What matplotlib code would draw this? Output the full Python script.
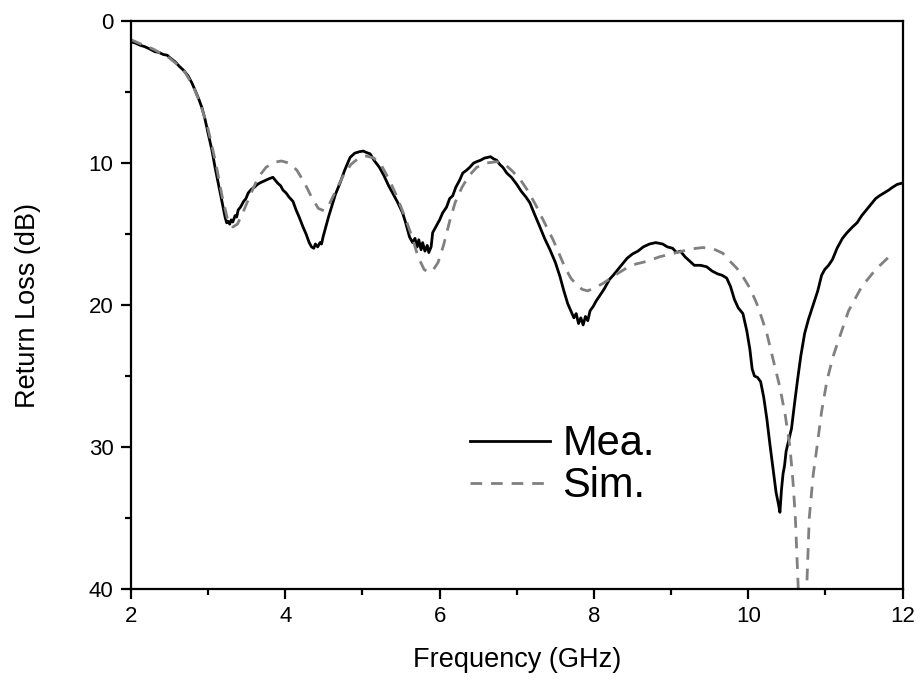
import matplotlib
matplotlib.use("Agg")
import matplotlib.pyplot as plt
from matplotlib.ticker import MultipleLocator

plt.rcParams["font.family"] = ["Liberation Sans", "DejaVu Sans"]

# measured return loss (GHz, dB)
mea_freq = [2.00, 2.06, 2.12, 2.18, 2.24, 2.31, 2.36, 2.42, 2.47, 2.51, 2.57, 2.63, 2.68, 2.74,
            2.79, 2.83, 2.88, 2.92, 2.96, 3.00, 3.05, 3.09, 3.12, 3.15, 3.19, 3.22, 3.24, 3.26,
            3.28, 3.30, 3.32, 3.35, 3.37, 3.39, 3.42, 3.46, 3.49, 3.52, 3.56, 3.60, 3.64, 3.67,
            3.71, 3.75, 3.79, 3.84, 3.87, 3.90, 3.94, 3.97, 4.01, 4.05, 4.10, 4.14, 4.18, 4.23,
            4.27, 4.31, 4.34, 4.37, 4.39, 4.42, 4.45, 4.47, 4.49, 4.52, 4.56, 4.60, 4.65, 4.71,
            4.77, 4.84, 4.90, 4.96, 5.01, 5.05, 5.10, 5.15, 5.22, 5.28, 5.34, 5.39, 5.45, 5.52,
            5.56, 5.61, 5.65, 5.68, 5.71, 5.73, 5.76, 5.78, 5.81, 5.84, 5.86, 5.89, 5.91, 5.95,
            6.00, 6.04, 6.09, 6.13, 6.17, 6.21, 6.26, 6.30, 6.35, 6.39, 6.44, 6.48, 6.53, 6.58,
            6.62, 6.66, 6.70, 6.74, 6.78, 6.82, 6.87, 6.93, 7.00, 7.06, 7.12, 7.17, 7.23, 7.30,
            7.36, 7.43, 7.50, 7.56, 7.61, 7.66, 7.70, 7.74, 7.77, 7.80, 7.83, 7.86, 7.89, 7.92,
            7.95, 7.99, 8.03, 8.08, 8.14, 8.20, 8.25, 8.31, 8.37, 8.43, 8.50, 8.57, 8.64, 8.72,
            8.80, 8.89, 8.95, 9.02, 9.07, 9.12, 9.18, 9.24, 9.30, 9.38, 9.46, 9.53, 9.60, 9.66,
            9.72, 9.77, 9.82, 9.87, 9.93, 9.98, 10.02, 10.05, 10.08, 10.12, 10.16, 10.20, 10.24,
            10.28, 10.32, 10.36, 10.39, 10.41, 10.43, 10.45, 10.47, 10.49, 10.52, 10.56, 10.60,
            10.64, 10.68, 10.73, 10.78, 10.84, 10.90, 10.95, 10.99, 11.04, 11.09, 11.15, 11.22,
            11.28, 11.35, 11.41, 11.47, 11.53, 11.59, 11.65, 11.70, 11.76, 11.82, 11.87, 11.93,
            12.00]
mea_db = [1.45, 1.55, 1.70, 1.80, 1.95, 2.15, 2.20, 2.35, 2.40, 2.60, 2.85, 3.20, 3.45, 3.85,
          4.35, 4.85, 5.50, 6.10, 6.90, 7.90, 9.10, 10.30, 11.10, 11.90, 13.00, 13.80, 14.20, 14.10,
          14.30, 14.00, 14.15, 13.70, 13.80, 13.30, 13.10, 12.70, 12.50, 12.10, 11.85, 11.70, 11.50, 11.40,
          11.30, 11.20, 11.10, 11.00, 11.20, 11.40, 11.60, 11.90, 12.10, 12.40, 12.70, 13.30, 13.80, 14.50,
          15.00, 15.60, 15.90, 16.00, 15.70, 15.90, 15.60, 15.70, 15.20, 14.60, 13.80, 13.10, 12.20, 11.40,
          10.50, 9.60, 9.30, 9.20, 9.15, 9.25, 9.35, 9.80, 10.30, 10.90, 11.60, 12.10, 12.70, 13.50,
          14.20, 15.20, 15.60, 15.30, 15.90, 15.40, 16.10, 15.60, 16.20, 15.80, 16.30, 15.90, 14.90, 14.50,
          14.00, 13.50, 13.10, 12.50, 12.30, 11.70, 11.20, 10.70, 10.50, 10.30, 10.00, 9.90, 9.80, 9.65,
          9.60, 9.55, 9.70, 9.80, 10.10, 10.30, 10.70, 11.00, 11.50, 12.00, 12.40, 12.80, 13.60, 14.50,
          15.30, 16.10, 17.00, 18.00, 19.00, 19.90, 20.40, 20.90, 20.60, 21.30, 20.90, 21.40, 20.80, 21.10,
          20.40, 20.10, 19.70, 19.30, 18.80, 18.20, 17.90, 17.50, 17.10, 16.70, 16.40, 16.20, 15.90, 15.70,
          15.60, 15.70, 15.90, 16.00, 16.30, 16.20, 16.60, 16.90, 17.20, 17.20, 17.30, 17.60, 17.80, 17.90,
          18.10, 18.70, 19.60, 20.20, 20.60, 21.80, 23.10, 24.50, 25.00, 25.10, 25.40, 26.50, 28.00,
          29.80, 31.50, 33.20, 34.00, 34.60, 33.00, 31.90, 31.30, 30.30, 29.60, 28.70, 26.90,
          25.20, 23.60, 22.00, 21.00, 20.00, 19.00, 17.90, 17.50, 17.20, 16.80, 16.00, 15.30,
          14.90, 14.50, 14.20, 13.70, 13.30, 12.90, 12.50, 12.30, 12.10, 11.90, 11.70, 11.50,
          11.40]

# simulated return loss (GHz, dB)
sim_freq = [2.00, 2.10, 2.20, 2.30, 2.40, 2.50, 2.60, 2.70, 2.80, 2.90, 3.00, 3.10, 3.18, 3.25,
            3.32, 3.38, 3.45, 3.55, 3.65, 3.75, 3.85, 3.95, 4.05, 4.15, 4.25, 4.35, 4.43, 4.50,
            4.57, 4.65, 4.75, 4.85, 4.95, 5.05, 5.15, 5.25, 5.35, 5.45, 5.55, 5.65, 5.72, 5.80,
            5.86, 5.92, 5.98, 6.05, 6.13, 6.20, 6.29, 6.38, 6.48, 6.60, 6.74, 6.85, 6.95, 7.05,
            7.15, 7.25, 7.35, 7.47, 7.55, 7.62, 7.70, 7.78, 7.85, 7.92, 8.00, 8.11, 8.22, 8.33,
            8.45, 8.55, 8.70, 8.85, 9.00, 9.11, 9.25, 9.41, 9.55, 9.67, 9.76, 9.85, 9.93, 10.02,
            10.11, 10.18, 10.24, 10.32, 10.41, 10.48, 10.54, 10.58, 10.61, 10.64, 10.70, 10.76,
            10.79, 10.84, 10.89, 10.95, 11.02, 11.10, 11.18, 11.30, 11.47, 11.65, 11.88]
sim_db = [1.30, 1.55, 1.75, 2.00, 2.30, 2.60, 3.05, 3.60, 4.50, 5.80, 7.60, 10.00, 12.30, 13.90,
          14.50, 14.30, 13.50, 12.20, 11.00, 10.30, 9.95, 9.85, 10.00, 10.50, 11.40, 12.50, 13.20, 13.35,
          12.90, 12.00, 10.90, 10.10, 9.65, 9.50, 9.65, 10.20, 11.20, 12.40, 13.80, 15.30, 16.60, 17.50,
          17.70, 17.50, 17.00, 15.80, 14.10, 12.80, 11.70, 10.90, 10.30, 10.00, 9.90, 10.10, 10.60, 11.20,
          12.00, 13.00, 14.10, 15.40, 16.40, 17.30, 18.10, 18.60, 18.90, 19.00, 18.80, 18.50, 18.10, 17.70,
          17.30, 17.10, 16.90, 16.60, 16.40, 16.25, 16.05, 15.95, 16.05, 16.35, 16.90, 17.40, 18.00, 18.80,
          19.90, 21.00, 22.00, 23.80, 25.80, 27.80, 30.00, 32.50, 35.00, 39.00, 47.00, 39.50,
          35.00, 32.00, 30.00, 27.50, 25.30, 23.60, 22.30, 20.40, 18.70, 17.50, 16.30]

fig = plt.figure(figsize=(9.22, 6.82), dpi=100)
ax = fig.add_axes([0.142, 0.1364, 0.837, 0.8326])

ax.plot(mea_freq, mea_db, color="black", lw=2.0, label="Mea.")
ax.plot(sim_freq, sim_db, color="#808080", lw=2.0, dashes=(4.2, 3.2), label="Sim.")

ax.set_xlim(2, 12)
ax.set_ylim(40, 0)
ax.xaxis.set_major_locator(MultipleLocator(2))
ax.xaxis.set_minor_locator(MultipleLocator(1))
ax.yaxis.set_major_locator(MultipleLocator(10))
ax.yaxis.set_minor_locator(MultipleLocator(5))
ax.tick_params(which="both", direction="out", width=1.6, labelsize=16, top=False, right=False)
ax.tick_params(which="major", length=7.5)
ax.tick_params(which="minor", length=4.5)
ax.tick_params(axis="x", which="major", pad=5)
ax.tick_params(axis="y", which="major", pad=5)
for s in ax.spines.values():
    s.set_linewidth(1.6)

ax.set_xlabel("Frequency (GHz)", fontsize=19.5)
ax.set_ylabel("Return Loss (dB)", fontsize=19.5)
ax.xaxis.set_label_coords(0.5, -0.102)
ax.yaxis.set_label_coords(-0.117, 0.5)

ax.legend(loc="center left", bbox_to_anchor=(0.44, 0.218), frameon=False, fontsize=30,
          handlelength=1.9, handletextpad=0.3, labelspacing=0.05, borderpad=0, borderaxespad=0)

fig.savefig("out.png", dpi=100)
